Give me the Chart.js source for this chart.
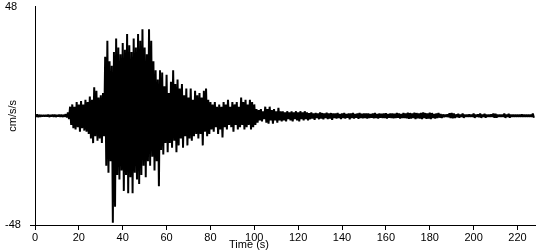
<!DOCTYPE html>
<html>
<head>
    <title>Accelerogram</title>
    <script src="https://cdn.jsdelivr.net/npm/chart.js"></script>
    <style>
        body {
            margin: 0;
            background: #ffffff;
        }

        .chart-container {
            width: 550px;
            height: 250px;
            position: relative;
        }
    </style>
</head>
<body>
    <div class="chart-container">
        <canvas id="accel-chart"></canvas>
    </div>

    <script>
        // peak up / down swing in each 1 s window (cm/s/s)
        const peakUp = [
            0.4, 0.6, 0.4, 0.3, 0.3, 0.3, 0.5, 0.3, 0.5, 0.5,
            0.3, 0.5, 0.5, 0.4, 0.7, 1.5, 4, 5, 4, 6,
            5, 6.5, 5, 7, 6, 8.5, 7, 12.5, 11, 8,
            9, 10, 26, 33, 24, 22, 28, 34, 30, 27,
            32, 29, 36, 31, 28, 34, 30, 36, 33, 38,
            30, 27, 38, 33, 24, 20, 16, 20, 19, 13,
            18, 10, 15, 20, 14, 16, 12, 14, 9, 12,
            8, 12, 7, 11, 9, 10, 8, 11, 12, 7,
            6, 5, 6, 4, 5, 4, 6, 5, 7, 4,
            6, 5, 6, 4, 8, 6, 7, 5, 7, 6,
            5, 3, 2.5, 3, 2, 4, 3, 4, 2.5, 3,
            2, 3.5, 2, 2, 1.5, 2, 1.5, 2, 1.5, 2,
            1.5, 2, 1.5, 2, 1.5, 1.2, 1.5, 1, 1.3, 1,
            1.5, 1.2, 1, 1.4, 1, 1.2, 1, 1, 1.2, 0.8,
            1, 1.3, 0.8, 1, 1, 1.2, 0.8, 1, 1.3, 0.9,
            1, 1, 1, 0.8, 1, 1.2, 0.8, 1, 0.9, 1,
            1.1, 0.8, 1, 1, 0.9, 1.2, 1, 0.8, 1.3, 1,
            1.4, 1.2, 1, 1.4, 1.2, 1, 1.3, 1.5, 1.2, 1,
            1.4, 1.2, 0.8, 1, 1.2, 0.8, 0.6, 0.5, 0.6, 1.1,
            1.2, 1, 0.6, 0.9, 0.5, 1, 0.5, 0.5, 0.6, 0.5,
            1, 0.5, 0.6, 1, 0.5, 0.9, 0.5, 0.5, 0.6, 1,
            0.9, 0.5, 0.5, 0.5, 1, 0.5, 0.9, 0.5, 0.5, 0.5,
            0.5, 0.5, 0.6, 0.5, 0.5, 0.5, 0.5, 1
        ];
        const peakDown = [
            -0.4, -0.6, -0.4, -0.3, -0.3, -0.3, -0.5, -0.3, -0.5, -0.5,
            -0.3, -0.5, -0.5, -0.4, -0.7, -1.5, -4, -5.5, -6, -5,
            -7, -5.5, -6.5, -7, -8, -10, -12, -9, -11, -10,
            -12, -9, -22, -25, -20, -47, -40, -26, -28, -24,
            -33, -26, -34, -27, -34, -25, -28, -30, -26, -22,
            -27, -20, -22, -18, -24, -20, -31, -15, -17, -12,
            -16, -12, -14, -11, -16, -13, -10, -14, -9, -13,
            -10, -11, -9, -8, -10, -8, -13, -7, -9, -8,
            -6, -7, -5, -8, -6, -9.5, -5, -6, -4, -5,
            -7, -4, -6, -5, -4, -6, -5, -4, -6, -5,
            -4, -3, -2, -2.5, -1.5, -3, -3.5, -2, -3.5, -2,
            -3, -2, -2.5, -2, -2.5, -1.5, -2, -2.5, -1.5, -2,
            -2.5, -1.5, -2, -1.5, -2, -1.5, -1.2, -1.8, -1, -1.5,
            -1.2, -1.6, -1, -1.4, -1.2, -1.8, -1, -1.2, -1, -1.4,
            -1, -1.2, -0.8, -1.5, -1, -1.2, -0.9, -1.3, -1, -1.1,
            -1, -1.2, -1, -0.8, -1.1, -1, -1.2, -0.9, -1, -1,
            -1.2, -0.8, -1, -1.1, -1, -0.9, -1.2, -1, -1, -1.1,
            -1.3, -1.2, -1, -1.4, -1.1, -1.2, -1.4, -1, -1.3, -1.2,
            -1.4, -1, -1.2, -1, -0.8, -1, -0.6, -0.5, -0.6, -1,
            -1.1, -1, -0.6, -0.8, -0.5, -0.9, -0.5, -0.5, -0.5, -0.5,
            -0.9, -0.5, -0.6, -0.9, -0.5, -0.8, -0.5, -0.5, -0.5, -0.9,
            -0.8, -0.5, -0.5, -0.5, -0.9, -0.5, -0.8, -0.5, -0.5, -0.5,
            -0.5, -0.5, -0.5, -0.5, -0.5, -0.5, -0.5, -0.9
        ];
        const xTicks = [0, 20, 40, 60, 80, 100, 120, 140, 160, 180, 200, 220];
        const yTicks = [-48, 48];
        const timeMax = 228;

        // each window: up swing at its start, down swing half a second later
        const trace = [];
        peakUp.forEach((v, i) => {
            trace.push({ x: i, y: v });
            trace.push({ x: i + 0.5, y: peakDown[i] });
        });

        const font = { family: '"Liberation Sans", Arial, sans-serif', size: 11 };

        // x title sits left of the axis centre in the original, so draw it by hand
        const timeTitle = {
            id: 'timeTitle',
            afterDraw(chart) {
                const ctx = chart.ctx;
                ctx.save();
                ctx.font = '11px "Liberation Sans", Arial, sans-serif';
                ctx.fillStyle = '#000';
                ctx.textAlign = 'center';
                ctx.textBaseline = 'middle';
                ctx.fillText('Time (s)', 249, 245);
                ctx.restore();
            }
        };

        const ctx = document.getElementById('accel-chart').getContext('2d');
        new Chart(ctx, {
            type: 'line',
            data: {
                datasets: [{
                    label: 'Acceleration',
                    data: trace,
                    borderColor: '#000000',
                    borderWidth: 2,
                    borderJoinStyle: 'bevel',
                    pointRadius: 0,
                    tension: 0,
                    fill: false
                }]
            },
            options: {
                responsive: true,
                maintainAspectRatio: false,
                animation: false,
                layout: { padding: { left: 5, right: 15, top: 5, bottom: 0 } },
                plugins: {
                    legend: { display: false },
                    tooltip: { enabled: false }
                },
                scales: {
                    x: {
                        type: 'linear',
                        min: 0,
                        max: timeMax,
                        afterBuildTicks: s => { s.ticks = xTicks.map(v => ({ value: v })); },
                        afterFit: s => { s.height = 25; },
                        border: { color: '#000', width: 1 },
                        grid: { drawOnChartArea: false, tickLength: 5, tickColor: '#000' },
                        ticks: { color: '#000', font: font, padding: 1, maxRotation: 0, autoSkip: false }
                    },
                    y: {
                        min: -48,
                        max: 48,
                        afterBuildTicks: s => { s.ticks = yTicks.map(v => ({ value: v })); },
                        afterFit: s => { s.width = 30; },
                        border: { color: '#000', width: 1 },
                        grid: {
                            drawOnChartArea: false,
                            tickLength: 5,
                            tickColor: c => (c.tick && c.tick.value === -48) ? '#000' : 'rgba(0,0,0,0)'
                        },
                        ticks: { color: '#000', font: font, crossAlign: 'far', padding: 0 },
                        title: { display: true, text: 'cm/s/s', color: '#000', font: font, padding: { top: 1, bottom: 0 } }
                    }
                }
            },
            plugins: [timeTitle]
        });
    </script>
</body>
</html>
